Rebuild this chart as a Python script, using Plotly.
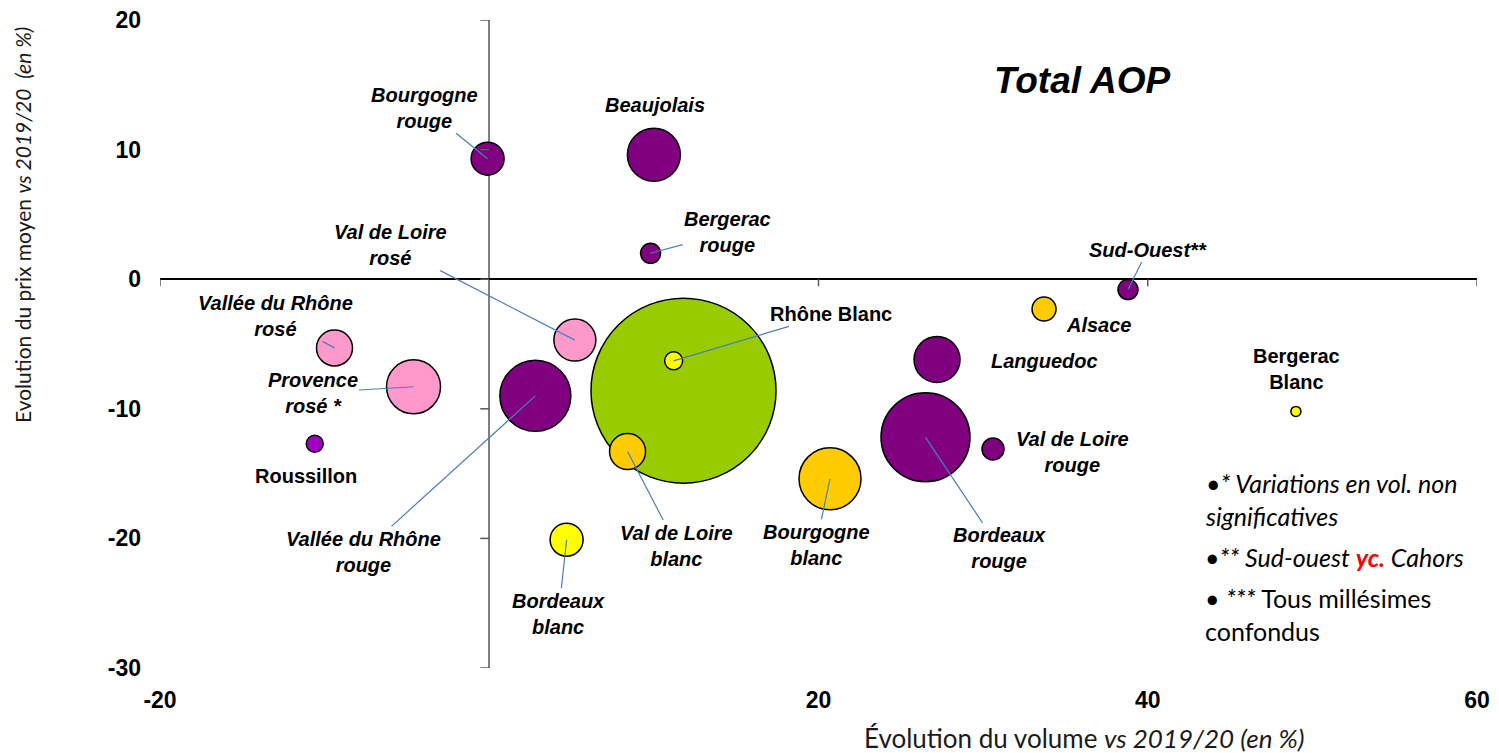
import plotly.graph_objects as go

# données (évolution vs 2019/20, en %)
appellations = [
    "Total AOP", "Bourgogne rouge", "Beaujolais", "Bergerac rouge", "Sud-Ouest**", "Alsace",
    "Bergerac Blanc", "Vallée du Rhône rosé", "Provence rosé *", "Roussillon",
    "Vallée du Rhône rouge", "Val de Loire rosé", "Rhône Blanc", "Val de Loire blanc",
    "Bourgogne blanc", "Bordeaux rouge", "Val de Loire rouge", "Languedoc", "Bordeaux blanc",
]
evol_volume = [11.8, -0.1, 10.0, 9.8, 38.8, 33.7, 49.0, -9.4, -4.6, -10.6,
               2.8, 5.2, 11.2, 8.4, 20.7, 26.5, 30.6, 27.2, 4.7]
evol_prix = [-8.6, 9.3, 9.6, 2.0, -0.8, -2.3, -10.2, -5.3, -8.3, -12.7,
             -9.0, -4.7, -6.3, -13.3, -15.4, -12.2, -13.1, -6.2, -20.1]
poids_volume = [185, 33, 53, 20, 20, 24, 10, 36, 54, 17,
                71, 42, 18, 36, 62, 89, 22, 46, 33]

x_ticks = [-20, 20, 40, 60]
x_ticktext = ["-20", "20", "40", "60"]
y_ticks = [-30, -20, -10, 0, 10, 20]
y_ticktext = ["-30", "-20", "-10", "0", "10", "20"]

PURPLE = "#800080"
PINK = "#FF99CC"
GOLD = "#FFCC00"
YELLOW = "#FFFF00"
couleurs = {
    "Total AOP": "#99CC00", "Bourgogne rouge": PURPLE, "Beaujolais": PURPLE,
    "Bergerac rouge": PURPLE, "Sud-Ouest**": PURPLE, "Alsace": GOLD,
    "Bergerac Blanc": YELLOW, "Vallée du Rhône rosé": PINK, "Provence rosé *": PINK,
    "Roussillon": "#A000C4", "Vallée du Rhône rouge": PURPLE, "Val de Loire rosé": PINK,
    "Rhône Blanc": YELLOW, "Val de Loire blanc": GOLD, "Bourgogne blanc": GOLD,
    "Bordeaux rouge": PURPLE, "Val de Loire rouge": PURPLE, "Languedoc": PURPLE,
    "Bordeaux blanc": YELLOW,
}

# texte, décalage (px), trait de rappel, italique
etiquettes = {
    "Bourgogne rouge": ("Bourgogne<br>rouge", -63, -51, True, True),
    "Beaujolais": ("Beaujolais", 1, -50, False, True),
    "Bergerac rouge": ("Bergerac<br>rouge", 77, -21, True, True),
    "Sud-Ouest**": ("Sud-Ouest**", 20, -40, True, True),
    "Alsace": ("Alsace", 55, 16, False, True),
    "Bergerac Blanc": ("Bergerac<br>Blanc", 1, -42, False, False),
    "Vallée du Rhône rosé": ("Vallée du Rhône<br>rosé", -59, -32, True, True),
    "Provence rosé *": ("Provence<br>rosé *", -101, 6, True, True),
    "Roussillon": ("Roussillon", -9, 32, False, False),
    "Vallée du Rhône rouge": ("Vallée du Rhône<br>rouge", -172, 156, True, True),
    "Val de Loire rosé": ("Val de Loire<br>rosé", -184, -95, True, True),
    "Rhône Blanc": ("Rhône Blanc", 157, -47, True, False),
    "Val de Loire blanc": ("Val de Loire<br>blanc", 49, 94, True, True),
    "Bourgogne blanc": ("Bourgogne<br>blanc", -14, 66, True, True),
    "Bordeaux rouge": ("Bordeaux<br>rouge", 74, 111, True, True),
    "Val de Loire rouge": ("Val de Loire<br>rouge", 79, 3, False, True),
    "Languedoc": ("Languedoc", 107, 1, False, True),
    "Bordeaux blanc": ("Bordeaux<br>blanc", -8, 74, True, True),
}

LABEL_FONT = dict(family="Liberation Sans, Arial", size=20, color="black")
NOTE_FONT = dict(family="Lato, Open Sans", size=25, color="black")

fig = go.Figure()
fig.add_trace(go.Scatter(
    x=evol_volume, y=evol_prix, mode="markers", text=appellations,
    marker=dict(size=poids_volume, sizemode="diameter",
                color=[couleurs[a] for a in appellations],
                opacity=1, line=dict(color="black", width=1.5)),
    hovertemplate="%{text}<br>%{x} / %{y}<extra></extra>",
    showlegend=False,
))

for a, vx, vy in zip(appellations, evol_volume, evol_prix):
    if a not in etiquettes:
        continue
    txt, dx, dy, line, ital = etiquettes[a]
    txt = f"<b><i>{txt}</i></b>" if ital else f"<b>{txt}</b>"
    if line:
        fig.add_annotation(x=vx, y=vy, text=txt, showarrow=True, ax=dx, ay=dy,
                           arrowhead=0, arrowwidth=1.2, arrowcolor="#4A7EBB",
                           standoff=0, font=LABEL_FONT)
    else:
        fig.add_annotation(x=vx, y=vy, text=txt, showarrow=False,
                           xshift=dx, yshift=-dy, font=LABEL_FONT)

# petites graduations sur les axes qui se croisent en 0
for t in x_ticks:
    fig.add_shape(type="line", xref="x", yref="y", x0=t, x1=t,
                  ysizemode="pixel", yanchor=0, y0=0, y1=-7,
                  line=dict(color="#595959", width=1.5))
for t in y_ticks:
    fig.add_shape(type="line", xref="x", yref="y", y0=t, y1=t,
                  xsizemode="pixel", xanchor=0, x0=-9, x1=0,
                  line=dict(color="#595959", width=1.5))

fig.add_annotation(text="<b><i>Total AOP</i></b>", xref="paper", yref="paper",
                   x=0.7000, y=0.9060, xanchor="center", yanchor="middle", showarrow=False,
                   font=dict(family="Liberation Sans, Arial", size=37, color="black"))

fig.add_annotation(text="•<i>* Variations en vol. non<br>significatives</i>",
                   xref="paper", yref="paper", x=0.7920, y=0.2608, xanchor="left",
                   yanchor="middle", align="left", showarrow=False, font=NOTE_FONT)
fig.add_annotation(text="•<i>** Sud-ouest </i><span style='color:#FF0000'><b><i>yc.</i></b></span><i> Cahors</i>",
                   xref="paper", yref="paper", x=0.7920, y=0.1713, xanchor="left",
                   yanchor="middle", align="left", showarrow=False, font=NOTE_FONT)
fig.add_annotation(text="• <i>***</i> Tous millésimes<br>confondus",
                   xref="paper", yref="paper", x=0.7920, y=0.0818, xanchor="left",
                   yanchor="middle", align="left", showarrow=False, font=NOTE_FONT)

fig.add_annotation(text="Évolution du volume <i>vs 2019/20 (en %)</i>",
                   xref="paper", yref="paper", x=0.7016, y=-0.108,
                   xanchor="center", yanchor="middle", showarrow=False,
                   font=dict(family="Lato, Open Sans", size=26, color="#1a1a1a"))
fig.add_annotation(text="Evolution du prix moyen <i>vs 2019/20  (en %)</i>",
                   xref="paper", yref="paper", x=-0.1048, y=0.6836, textangle=-90,
                   xanchor="center", yanchor="middle", showarrow=False,
                   font=dict(family="Lato, Open Sans", size=21, color="#1a1a1a"))

fig.update_xaxes(range=[-20, 60], tickvals=x_ticks, ticktext=x_ticktext,
                 showgrid=False, showline=False, automargin=False,
                 zeroline=True, zerolinecolor="#7F7F7F", zerolinewidth=1.5,
                 ticks="", ticklabelstandoff=16, ticklabeloverflow="allow",
                 tickfont=dict(family="Liberation Sans, Arial", size=23, color="black", weight="bold"))
fig.update_yaxes(range=[-30, 20], tickvals=y_ticks, ticktext=y_ticktext,
                 showgrid=False, showline=False, automargin=False,
                 zeroline=True, zerolinecolor="#000000", zerolinewidth=1.5,
                 ticks="", ticklabelstandoff=18, ticklabeloverflow="allow",
                 tickfont=dict(family="Liberation Sans, Arial", size=23, color="black", weight="bold"))

# la page ajoute une marge de 8 px autour de la figure
fig.update_layout(width=1491, height=745, margin=dict(l=152, r=22, t=12, b=85),
                  plot_bgcolor="white", paper_bgcolor="white")

fig.write_html("out.html")
